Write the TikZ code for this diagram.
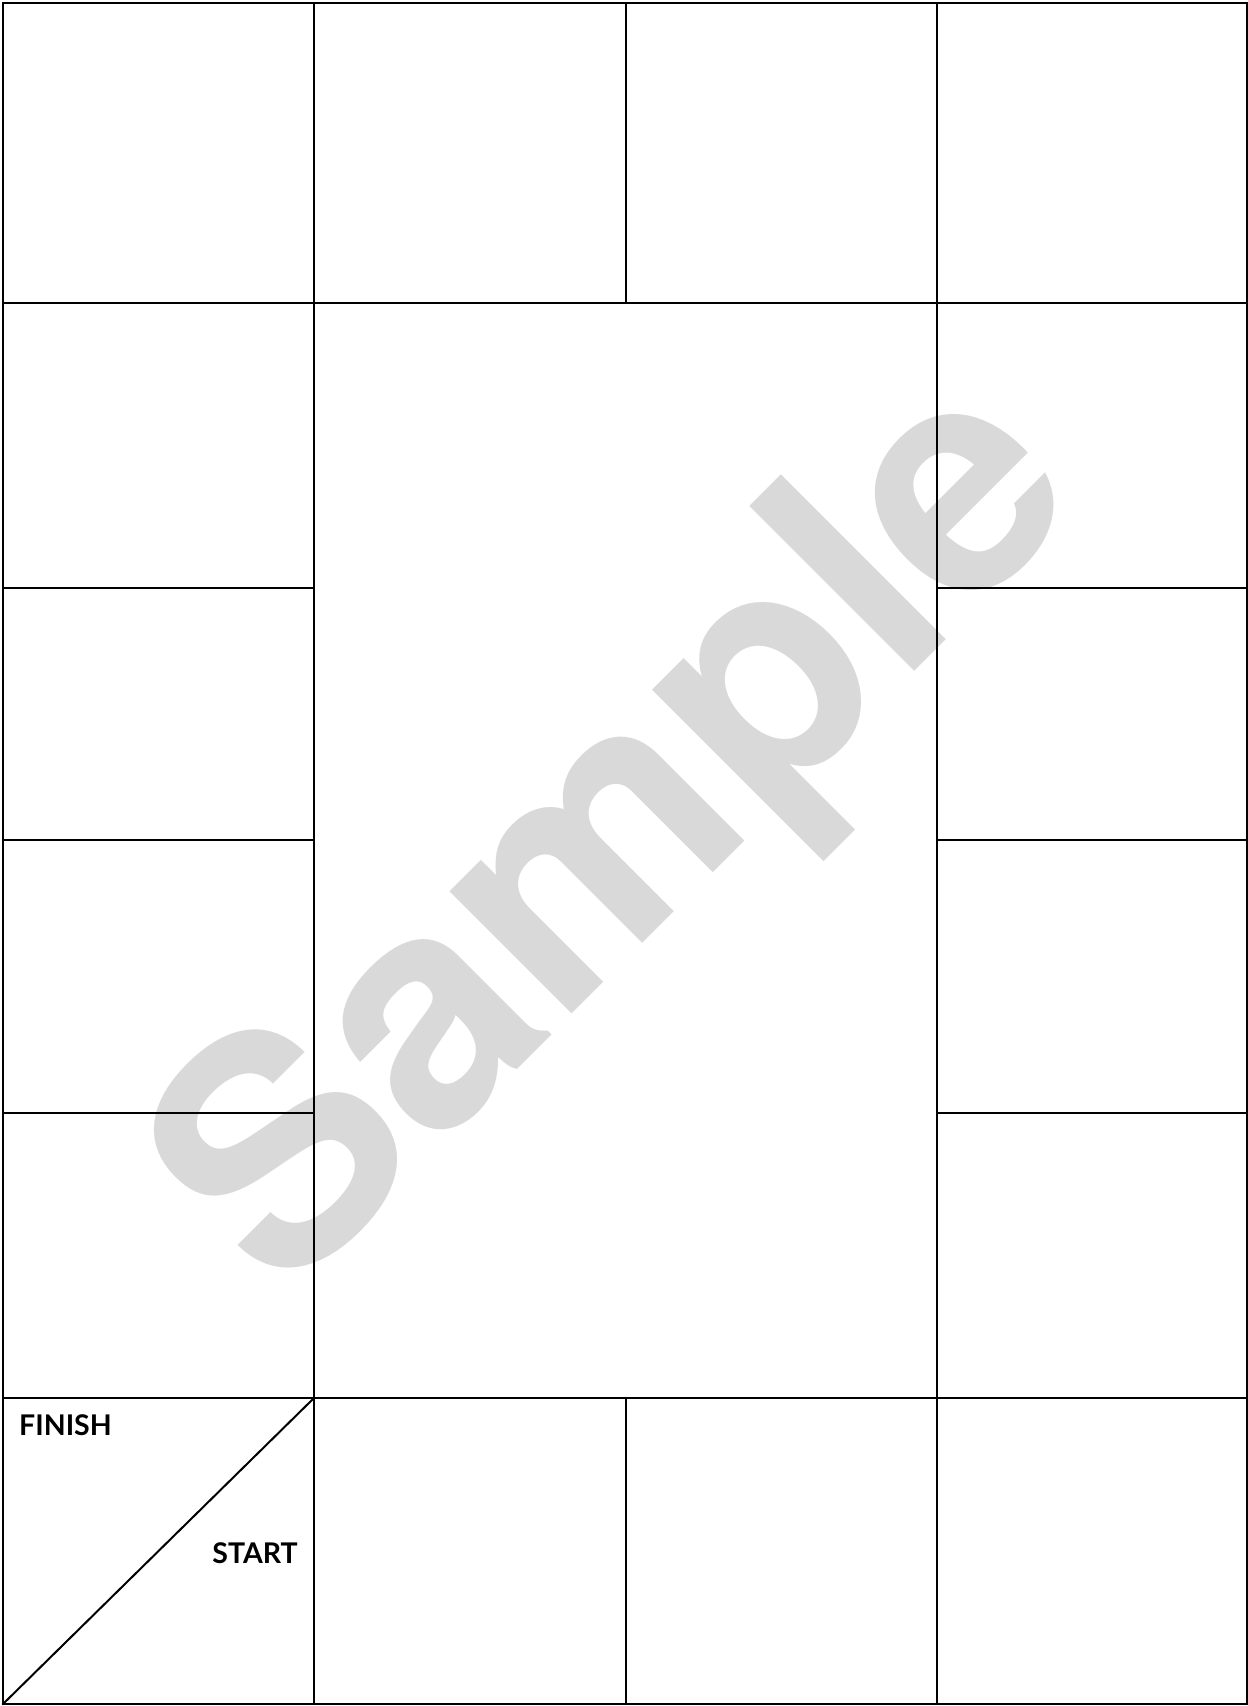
\documentclass[tikz,border=0pt]{standalone}
\usepackage{fontspec}
\newfontfamily\boardfont{Lato}
\newfontfamily\markfont{TeX Gyre Heros}
\begin{document}
\begin{tikzpicture}[x=1pt,y=-1pt,
  board/.style={line width=2pt, line cap=rect},
  label/.style={font=\boardfont\bfseries\fontsize{28.5}{32}\selectfont, inner sep=0pt}]
\useasboundingbox (0,0) rectangle (1248,1706);

% Watermark behind the board
\node[font=\markfont\bfseries\fontsize{320}{360}\selectfont, text=black!15,
      rotate=45, inner sep=0pt] (wmark) at (626,842) {Sample};

% Outer frame and inner field
\draw[board] (3,3) rectangle (1247,1704);
\draw[board] (314,303) rectangle (937,1398);

% Top and bottom rows
\foreach \x in {314,626,937} {
  \draw[board] (\x,3) -- (\x,303);
  \draw[board] (\x,1398) -- (\x,1704);
}
\draw[board] (3,303) -- (1247,303);
\draw[board] (3,1398) -- (1247,1398);

% Side columns
\foreach \y in {588,840,1113} {
  \draw[board] (3,\y) -- (314,\y);
  \draw[board] (937,\y) -- (1247,\y);
}

% Corner square
\draw[board] (3,1704) -- (314,1398);
\node[label, anchor=base west] (finish) at (19,1435) {FINISH};
\node[label, anchor=base east] (start) at (298,1563) {START};

\end{tikzpicture}
\end{document}
